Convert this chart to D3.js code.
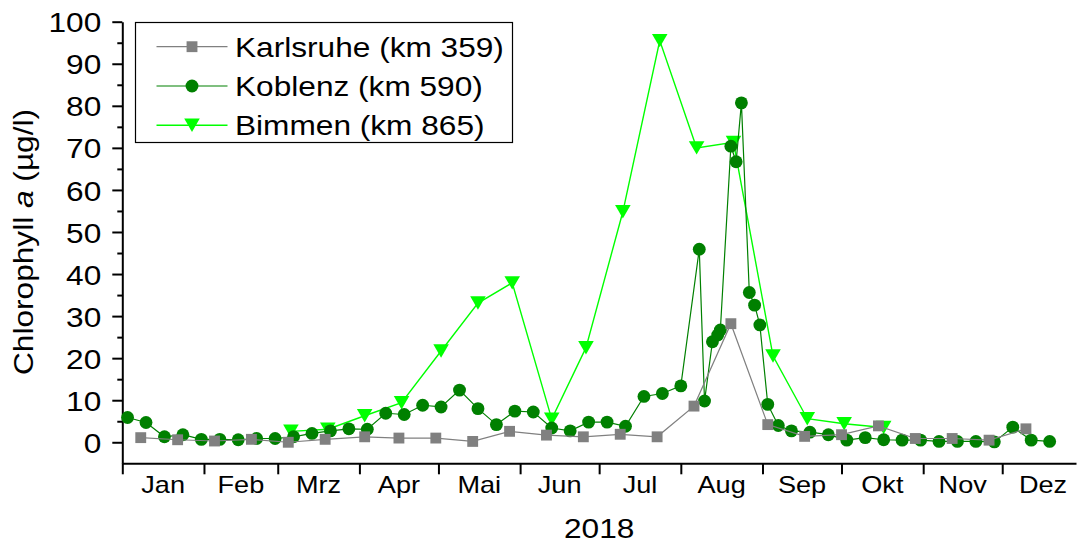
<!DOCTYPE html>
<html>
<head>
<meta charset="utf-8">
<script src="https://cdn.jsdelivr.net/npm/d3@7"></script>
<style>
  body { margin: 0; background: #fff; }
  svg { display: block; font-family: 'Liberation Sans', Arial, sans-serif; }
</style>
</head>
<body>
<svg id="chart" width="1078" height="544"></svg>
<script>
(function (d3) {
  'use strict';

  // data (Chlorophyll a, µg/l, 2018)
  const monthLabels = ['Jan', 'Feb', 'Mrz', 'Apr', 'Mai', 'Jun', 'Jul', 'Aug', 'Sep', 'Okt', 'Nov', 'Dez'];
  const yTicks = [0, 10, 20, 30, 40, 50, 60, 70, 80, 90, 100];
  const yMinorTicks = [5, 15, 25, 35, 45, 55, 65, 75, 85, 95];

  const karlsruheDates = ['2018-01-08', '2018-01-22', '2018-02-05', '2018-02-19', '2018-03-05', '2018-03-19',
    '2018-04-03', '2018-04-16', '2018-04-30', '2018-05-14', '2018-05-28', '2018-06-11', '2018-06-25',
    '2018-07-09', '2018-07-23', '2018-08-06', '2018-08-20', '2018-09-03', '2018-09-17', '2018-10-01',
    '2018-10-15', '2018-10-29', '2018-11-12', '2018-11-26', '2018-12-10'];
  const karlsruheValues = [1.1, 0.6, 0.3, 0.7, 0.0, 0.7, 1.3, 1.0, 1.0, 0.2, 2.6, 1.7, 1.3,
    1.9, 1.3, 8.6, 28.2, 4.2, 1.4, 1.8, 3.9, 0.9, 0.9, 0.5, 3.2];

  const koblenzDates = ['2018-01-03', '2018-01-10', '2018-01-17', '2018-01-24', '2018-01-31', '2018-02-07',
    '2018-02-14', '2018-02-21', '2018-02-28', '2018-03-07', '2018-03-14', '2018-03-21', '2018-03-28',
    '2018-04-04', '2018-04-11', '2018-04-18', '2018-04-25', '2018-05-02', '2018-05-09', '2018-05-16',
    '2018-05-23', '2018-05-30', '2018-06-06', '2018-06-13', '2018-06-20', '2018-06-27', '2018-07-04',
    '2018-07-11', '2018-07-18', '2018-07-25', '2018-08-01', '2018-08-08', '2018-08-10', '2018-08-13',
    '2018-08-15', '2018-08-16', '2018-08-20', '2018-08-22', '2018-08-24', '2018-08-27', '2018-08-29',
    '2018-08-31', '2018-09-03', '2018-09-07', '2018-09-12', '2018-09-19', '2018-09-26', '2018-10-03',
    '2018-10-10', '2018-10-17', '2018-10-24', '2018-10-31', '2018-11-07', '2018-11-14', '2018-11-21',
    '2018-11-28', '2018-12-05', '2018-12-12', '2018-12-19'];
  const koblenzValues = [5.9, 4.7, 1.3, 1.8, 0.7, 0.7, 0.6, 0.9, 0.9, 1.3, 2.1, 2.7, 3.2,
    3.1, 6.9, 6.6, 8.8, 8.4, 12.4, 8.0, 4.2, 7.4, 7.2, 3.4, 2.7, 4.8, 4.8,
    3.8, 10.9, 11.6, 13.4, 45.9, 9.8, 23.9, 25.5, 26.7, 70.4, 66.7, 80.7, 35.6, 32.6,
    27.9, 9.0, 4.0, 2.7, 2.4, 1.8, 0.5, 1.1, 0.6, 0.5, 0.5, 0.2, 0.2, 0.2,
    0.1, 3.6, 0.5, 0.2];

  const bimmenDates = ['2018-03-06', '2018-03-20', '2018-04-03', '2018-04-17', '2018-05-02', '2018-05-16',
    '2018-05-29', '2018-06-13', '2018-06-26', '2018-07-10', '2018-07-24', '2018-08-07', '2018-08-21',
    '2018-09-05', '2018-09-18', '2018-10-02', '2018-10-17'];
  const bimmenValues = [2.6, 3.1, 6.3, 9.4, 21.7, 33.1, 37.9, 5.5, 22.5, 54.8, 95.5, 70.0, 71.3,
    20.5, 5.6, 4.4, 3.5];

  const parseDate = d3.timeParse('%Y-%m-%d');
  const toPoints = (dates, values) => dates.map((d, i) => ({ date: parseDate(d), value: values[i] }));

  // downward triangle centred on its bounding box (like Origin's markers)
  const symbolTriangleDown = {
    draw(context, size) {
      const w = Math.sqrt(size * 4 / Math.sqrt(3));
      const h = w * Math.sqrt(3) / 2;
      context.moveTo(-w / 2, -h / 2);
      context.lineTo(w / 2, -h / 2);
      context.lineTo(0, h / 2);
      context.closePath();
    }
  };

  const series = [
    { name: 'Bimmen (km 865)', points: toPoints(bimmenDates, bimmenValues),
      color: '#00ff00', symbol: symbolTriangleDown, size: 105, lineWidth: 1.4 },
    { name: 'Koblenz (km 590)', points: toPoints(koblenzDates, koblenzValues),
      color: '#008000', symbol: d3.symbolCircle, size: 130, lineWidth: 1.2 },
    { name: 'Karlsruhe (km 359)', points: toPoints(karlsruheDates, karlsruheValues),
      color: '#808080', symbol: d3.symbolSquare, size: 118, lineWidth: 1.2 }
  ];

  const stretch = 1.13; // text in the figure is a little wider than Arial
  const svg = d3.select('svg#chart');

  const xScale = d3.scaleTime()
    .domain([new Date(2018, 0, 1), new Date(2018, 11, 29)])
    .range([122.3, 1076]);

  const yScale = d3.scaleLinear()
    .domain([-5, 100])
    .range([463.3, 21.7]);

  // y axis
  const yAxisG = svg.append('g')
    .attr('transform', `translate(${xScale.range()[0]},0)`);
  yAxisG.call(d3.axisLeft(yScale)
      .tickValues(yTicks)
      .tickSize(10)
      .tickSizeOuter(0)
      .tickFormat(d3.format('d')));
  yAxisG.selectAll('.domain, line')
    .attr('stroke', '#000')
    .attr('stroke-width', 2);
  yAxisG.selectAll('text')
    .attr('x', null)
    .attr('dy', '0.36em')
    .attr('font-size', 28)
    .attr('font-family', null)
    .attr('fill', '#000')
    .attr('transform', `translate(-21,0) scale(${stretch},1)`);

  const yMinorG = svg.append('g')
    .attr('transform', `translate(${xScale.range()[0]},0)`);
  yMinorG.call(d3.axisLeft(yScale)
      .tickValues(yMinorTicks)
      .tickSize(5)
      .tickFormat(''));
  yMinorG.select('.domain').remove();
  yMinorG.selectAll('line')
    .attr('stroke', '#000')
    .attr('stroke-width', 2);

  // x axis
  const monthStarts = d3.timeMonths(new Date(2018, 0, 1), new Date(2018, 11, 2));
  const xAxisG = svg.append('g')
    .attr('transform', `translate(0,${yScale.range()[0]})`);
  xAxisG.call(d3.axisBottom(xScale)
      .tickValues(monthStarts)
      .tickSize(11)
      .tickSizeOuter(0)
      .tickFormat(''));
  xAxisG.selectAll('.domain, line')
    .attr('stroke', '#000')
    .attr('stroke-width', 2);

  const monthMid = m => new Date((m.getTime() + d3.timeMonth.offset(m, 1).getTime()) / 2);
  svg.append('g')
    .selectAll('text')
    .data(monthStarts)
    .enter().append('text')
      .attr('text-anchor', 'middle')
      .attr('font-size', 24)
      .attr('transform', d => `translate(${xScale(monthMid(d))},492.5) scale(${stretch},1)`)
      .text((d, i) => monthLabels[i]);

  svg.append('text')
    .attr('text-anchor', 'middle')
    .attr('font-size', 28)
    .attr('transform', `translate(${(xScale.range()[0] + xScale.range()[1]) / 2},538) scale(${stretch},1)`)
    .text('2018');

  const yLabel = svg.append('text')
    .attr('text-anchor', 'middle')
    .attr('font-size', 28)
    .attr('transform', `translate(33,${(yScale(0) + yScale(100)) / 2 + 10}) rotate(-90) scale(${stretch},1)`);
  yLabel.append('tspan').text('Chlorophyll ');
  yLabel.append('tspan').attr('font-style', 'italic').text('a');
  yLabel.append('tspan').text(' (µg/l)');

  // series
  const line = d3.line()
    .x(d => xScale(d.date))
    .y(d => yScale(d.value));

  const seriesG = svg.selectAll('.series')
    .data(series)
    .enter().append('g')
      .attr('class', 'series');

  seriesG.append('path')
    .attr('fill', 'none')
    .attr('stroke', d => d.color)
    .attr('stroke-width', d => d.lineWidth)
    .attr('d', d => line(d.points));

  seriesG.each(function (s) {
    d3.select(this).selectAll('.marker')
      .data(s.points)
      .enter().append('path')
        .attr('class', 'marker')
        .attr('fill', s.color)
        .attr('d', d3.symbol().type(s.symbol).size(s.size))
        .attr('transform', d => `translate(${xScale(d.date)},${yScale(d.value)})`);
  });

  // legend
  const legend = svg.append('g');
  legend.append('rect')
    .attr('x', 135.5)
    .attr('y', 22.5)
    .attr('width', 377)
    .attr('height', 120)
    .attr('fill', '#fff')
    .attr('stroke', '#000')
    .attr('stroke-width', 1.2);

  const legendItems = series.slice().reverse();
  const legendRow = legend.selectAll('.legend-row')
    .data(legendItems)
    .enter().append('g')
      .attr('class', 'legend-row')
      .attr('transform', (d, i) => `translate(0,${46.7 + i * 39.3})`);

  legendRow.append('line')
    .attr('x1', 156.5)
    .attr('x2', 227.5)
    .attr('stroke', d => d.color)
    .attr('stroke-width', d => d.lineWidth);

  legendRow.append('path')
    .attr('fill', d => d.color)
    .attr('d', d => d3.symbol().type(d.symbol).size(d.size)())
    .attr('transform', 'translate(192,0)');

  legendRow.append('text')
    .attr('font-size', 28)
    .attr('transform', `translate(235,10) scale(${stretch},1)`)
    .text(d => d.name);

}(d3));
</script>
</body>
</html>
